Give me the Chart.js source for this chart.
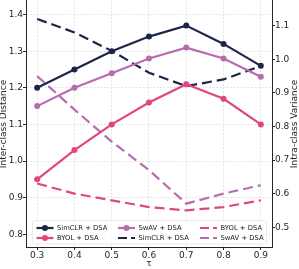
<!DOCTYPE html>
<html>
<head>
<meta charset="utf-8">
<script src="https://cdn.jsdelivr.net/npm/chart.js@4"></script>
<style>
html,body{margin:0;padding:0;background:#fff;}
canvas{display:block;}
</style>
</head>
<body>
<canvas id="c" width="299" height="269"></canvas>
<script>
// ---- data ----
const taus = [0.3, 0.4, 0.5, 0.6, 0.7, 0.8, 0.9];
const simclrDist = [1.20, 1.25, 1.30, 1.34, 1.37, 1.32, 1.26];
const swavDist   = [1.15, 1.20, 1.24, 1.28, 1.31, 1.28, 1.23];
const byolDist   = [0.95, 1.03, 1.10, 1.16, 1.21, 1.17, 1.10];
const simclrVar  = [1.12, 1.08, 1.025, 0.96, 0.92, 0.94, 0.98];
const swavVar    = [0.95, 0.85, 0.755, 0.67, 0.57, 0.60, 0.625];
const byolVar    = [0.63, 0.60, 0.58, 0.56, 0.55, 0.56, 0.58];
const leftTicks  = [0.8, 0.9, 1.0, 1.1, 1.2, 1.3, 1.4];
const rightTicks = [0.5, 0.6, 0.7, 0.8, 0.9, 1.0, 1.1];
const xLabel = 'τ';
const leftTitle = 'Inter-class Distance';
const rightTitle = 'Intra-class Variance';

const NAVY = '#1e2547', PINK = '#e1477b', PURPLE = '#b66caf';
const FONT = "'DejaVu Sans', sans-serif";
const pts = arr => taus.map((t, i) => ({x: t, y: arr[i]}));

function solid(label, arr, color) {
  return {label, data: pts(arr), yAxisID: 'y', borderColor: color, backgroundColor: color,
    borderWidth: 2.2, pointRadius: 3, pointBorderWidth: 0, pointBackgroundColor: color, tension: 0};
}
function dashed(label, arr, color) {
  return {label, data: pts(arr), yAxisID: 'y1', borderColor: color, backgroundColor: color,
    borderWidth: 2.2, borderDash: [10, 5], pointRadius: 0, tension: 0};
}

// column-major legend order (3 columns x 2 rows)
const datasets = [
  solid('SimCLR + DSA', simclrDist, NAVY),
  solid('BYOL + DSA', byolDist, PINK),
  solid('SwAV + DSA', swavDist, PURPLE),
  dashed('SimCLR + DSA', simclrVar, NAVY),
  dashed('BYOL + DSA', byolVar, PINK),
  dashed('SwAV + DSA', swavVar, PURPLE),
];

const legendPlugin = {
  id: 'innerLegend',
  afterDatasetsDraw(chart) {
    const ctx = chart.ctx;
    const ds = chart.data.datasets;
    ctx.save();
    const fx = 32.5, fy = 220.5, fw = 234, fh = 23.5, r = 2;
    ctx.beginPath();
    ctx.roundRect(fx, fy, fw, fh, r);
    ctx.fillStyle = 'rgba(255,255,255,0.8)';
    ctx.fill();
    ctx.strokeStyle = '#e4e4e4';
    ctx.lineWidth = 0.8;
    ctx.stroke();
    const colX = [36.5, 118, 200];
    const rowY = [228, 238];
    ds.forEach((d, i) => {
      const col = Math.floor(i / 2), row = i % 2;
      const x0 = colX[col], y = rowY[row], len = 17;
      ctx.strokeStyle = d.borderColor;
      ctx.lineWidth = d.borderWidth;
      ctx.setLineDash(d.borderDash ? [9, 4] : []);
      ctx.beginPath();
      ctx.moveTo(x0, y); ctx.lineTo(x0 + len, y); ctx.stroke();
      ctx.setLineDash([]);
      if (d.pointRadius > 0) {
        ctx.fillStyle = d.borderColor;
        ctx.beginPath();
        ctx.arc(x0 + len / 2, y, d.pointRadius, 0, Math.PI * 2);
        ctx.fill();
      }
      ctx.fillStyle = '#222';
      ctx.font = "6.8px " + FONT;
      ctx.textAlign = 'left';
      ctx.textBaseline = 'middle';
      ctx.fillText(d.label, x0 + 20.5, y + 0.5);
    });
    ctx.restore();
  },
  afterDraw(chart) {
    const ctx = chart.ctx;
    const a = chart.chartArea;
    ctx.save();
    ctx.fillStyle = '#222';
    ctx.font = "9px " + FONT;
    ctx.textAlign = 'center';
    ctx.textBaseline = 'middle';
    ctx.fillText(xLabel, (a.left + a.right) / 2, 264);
    const cy = 124;
    ctx.save();
    ctx.translate(4, cy);
    ctx.rotate(-Math.PI / 2);
    ctx.fillText(leftTitle, 0, 0);
    ctx.restore();
    ctx.save();
    ctx.translate(295, cy);
    ctx.rotate(-Math.PI / 2);
    ctx.fillText(rightTitle, 0, 0);
    ctx.restore();
    ctx.restore();
  }
};

const tickFont = {family: FONT, size: 9};
const fmt = v => Number(v).toFixed(1);
const noPad = s => { s.paddingTop = 0; s.paddingBottom = 0; s.paddingLeft = 0; s.paddingRight = 0; };

new Chart(document.getElementById('c'), {
  type: 'line',
  data: {datasets},
  options: {
    responsive: false, animation: false, devicePixelRatio: 1,
    layout: {padding: 0, autoPadding: false},
    plugins: {legend: {display: false}, tooltip: {enabled: false}},
    scales: {
      x: {
        type: 'linear', position: 'bottom', min: 0.27, max: 0.93,
        afterBuildTicks: s => { s.ticks = taus.map(v => ({value: v})); },
        ticks: {font: tickFont, color: '#262626', padding: 0, maxRotation: 0, autoSkip: false, callback: fmt},
        grid: {color: '#dedede', lineWidth: 0.8, tickLength: 3, tickColor: '#262626', tickWidth: 1, tickBorderDash: []},
        border: {color: '#262626', width: 1, dash: [2, 1.5]},
        afterFit: s => { s.height = 22; noPad(s); }
      },
      y: {
        type: 'linear', position: 'left', min: 0.765, max: 1.44,
        afterBuildTicks: s => { s.ticks = leftTicks.map(v => ({value: v})); },
        ticks: {font: tickFont, color: '#262626', padding: 0, callback: fmt},
        grid: {color: '#dedede', lineWidth: 0.8, tickLength: 3, tickColor: '#262626', tickWidth: 1, tickBorderDash: []},
        border: {color: '#262626', width: 1, dash: [2, 1.5]},
        afterFit: s => { s.width = 26; noPad(s); }
      },
      y1: {
        type: 'linear', position: 'right', min: 0.441, max: 1.1765,
        afterBuildTicks: s => { s.ticks = rightTicks.map(v => ({value: v})); },
        ticks: {font: tickFont, color: '#262626', padding: 0, callback: fmt},
        grid: {drawOnChartArea: false, tickLength: 3, tickColor: '#262626', tickWidth: 1, tickBorderDash: []},
        border: {color: '#262626', width: 1},
        afterFit: s => { s.width = 27; noPad(s); }
      }
    }
  },
  plugins: [legendPlugin]
});
</script>
</body>
</html>
